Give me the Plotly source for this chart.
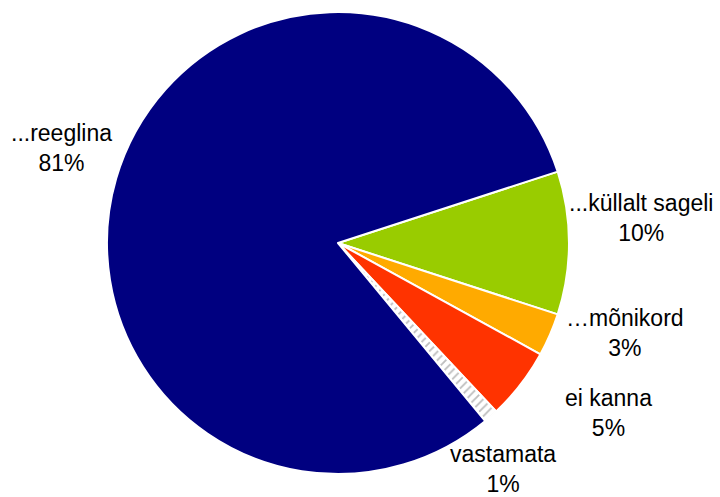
import plotly.graph_objects as go

# Survey answers, clockwise from the upper-right slice
labels = ["...küllalt sageli", "…mõnikord", "ei kanna", "vastamata", "...reeglina"]
values = [10, 3, 5, 1, 81]
colors = ["#99CC00", "#FFAA00", "#FF3300", "#FFFFFF", "#000080"]
patterns = ["", "", "", "/", ""]

# Label block centres in pixels (x, y from top)
label_pos = [(641, 218), (625, 333), (608, 413), (503, 469), (61, 148)]

W, H = 720, 497
cx, cy, r = 338, 243, 231

fig = go.Figure(go.Pie(
    labels=labels,
    values=values,
    sort=False,
    direction="clockwise",
    rotation=72,
    textinfo="none",
    hoverinfo="skip",
    showlegend=False,
    marker=dict(
        colors=colors,
        line=dict(color="white", width=2),
        pattern=dict(shape=patterns, fgcolor="#BDBDBD", bgcolor="white",
                     size=6, solidity=0.3),
    ),
    domain=dict(x=[(cx - r) / W, (cx + r) / W],
                y=[1 - (cy + r) / H, 1 - (cy - r) / H]),
))

for lab, val, (px, py) in zip(labels, values, label_pos):
    fig.add_annotation(
        x=px / W, y=1 - py / H, xref="paper", yref="paper",
        text=f"{lab}<br>{val}%", showarrow=False,
        xanchor="center", yanchor="middle", align="center",
        font=dict(family="Liberation Sans, Arial, sans-serif", size=23, color="black"),
    )

fig.update_layout(
    width=W, height=H,
    margin=dict(l=0, r=0, t=0, b=0),
    paper_bgcolor="white", plot_bgcolor="white",
)

fig.write_html("out.html")
